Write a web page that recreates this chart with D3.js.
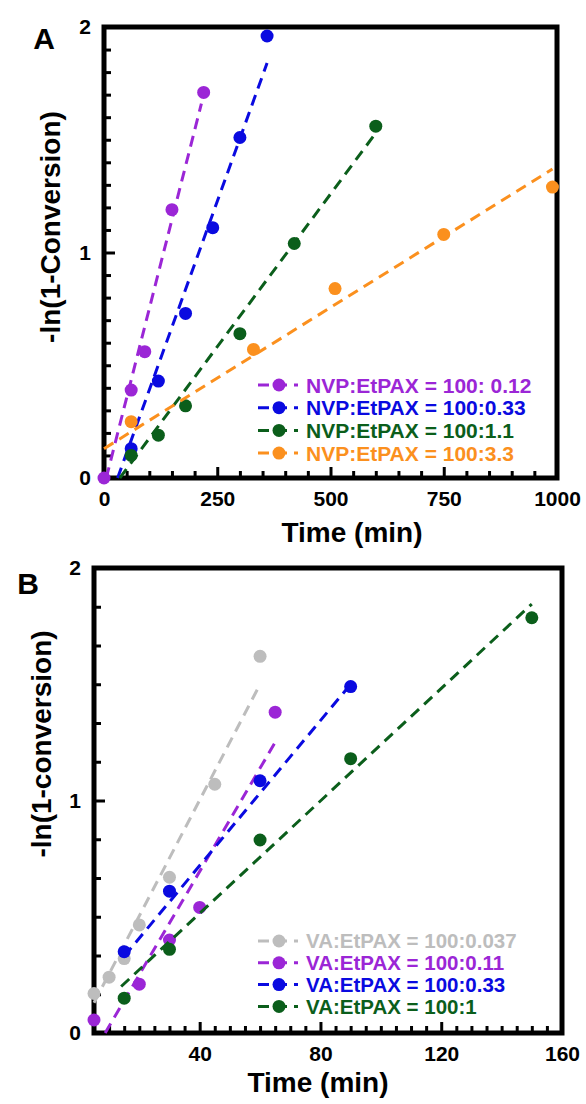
<!DOCTYPE html>
<html lang="en">
<head>
<meta charset="utf-8">
<title>-ln(1-conversion) vs time</title>
<script src="https://cdn.jsdelivr.net/npm/d3@7"></script>
<style>
  body { margin: 0; background: #fff; }
  svg text { font-family: "Liberation Sans", Arial, sans-serif; font-weight: bold; }
</style>
</head>
<body>
<script>
// ---- Panel A: NVP polymerisations ----
var labelsA = ["NVP:EtPAX = 100: 0.12", "NVP:EtPAX = 100:0.33", "NVP:EtPAX = 100:1.1", "NVP:EtPAX = 100:3.3"];
var timeA = [[0, 60, 90, 150, 220],
             [60, 120, 180, 240, 300, 360],
             [60, 120, 180, 300, 420, 600],
             [60, 330, 510, 750, 990]];
var convA = [[0, 0.39, 0.56, 1.19, 1.71],
             [0.13, 0.43, 0.73, 1.11, 1.51, 1.96],
             [0.10, 0.19, 0.32, 0.64, 1.04, 1.56],
             [0.25, 0.57, 0.84, 1.08, 1.29]];
// end points of the linear fits
var fitTimeA = [[5, 215], [30, 360], [35, 600], [0, 990]];
var fitConvA = [[0, 1.66], [0, 1.84], [0, 1.53], [0.13, 1.37]];
var xTicksA = [0, 250, 500, 750, 1000];
var yTicksA = [0, 1, 2];

// ---- Panel B: VA polymerisations ----
var labelsB = ["VA:EtPAX = 100:0.037", "VA:EtPAX = 100:0.11", "VA:EtPAX = 100:0.33", "VA:EtPAX = 100:1"];
var timeB = [[5, 10, 15, 20, 30, 45, 60],
             [5, 20, 30, 40, 65],
             [15, 30, 60, 90],
             [15, 30, 60, 90, 150]];
var convB = [[0.17, 0.24, 0.32, 0.465, 0.67, 1.07, 1.62],
             [0.056, 0.21, 0.40, 0.54, 1.38],
             [0.35, 0.61, 1.085, 1.49],
             [0.15, 0.36, 0.83, 1.18, 1.786]];
var fitTimeB = [[5, 60], [8.7, 65], [15, 90], [14, 150]];
var fitConvB = [[0.13, 1.50], [0, 1.25], [0.33, 1.50], [0.2, 1.845]];
var xTicksB = [40, 80, 120, 160];
var yTicksB = [0, 1, 2];

var colorsA = ["#9b26d6", "#0a0ae0", "#0b5e1b", "#fb901e"];
var colorsB = ["#bdbdbd", "#9b26d6", "#0a0ae0", "#0b5e1b"];

var w = 586;
var h = 1104;

var svg = d3.select("body")
            .append("svg")
            .attr("width", w)
            .attr("height", h);

function drawPanel(p) {
    var g = svg.append("g");

    var x = d3.scaleLinear().domain(p.xDomain).range([p.left, p.right]);
    var y = d3.scaleLinear().domain(p.yDomain).range([p.bottom, p.top]);

    // minor tick positions, skipping the labelled ones
    var xMinor = d3.range(p.xDomain[0], p.xDomain[1] + 1e-6, p.xMinorStep)
        .filter(function(v) { return !p.xTicks.some(function(t) { return Math.abs(t - v) < 1e-6; }); });
    var yMinor = d3.range(p.yDomain[0], p.yDomain[1] + 1e-6, p.yMinorStep)
        .filter(function(v) { return !p.yTicks.some(function(t) { return Math.abs(t - v) < 1e-6; }); });

    // inward ticks: minor ones first
    g.append("g")
        .attr("transform", "translate(0," + p.bottom + ")")
        .call(d3.axisBottom(x).tickValues(xMinor).tickSize(-7).tickFormat(""));
    g.append("g")
        .attr("transform", "translate(" + p.left + ",0)")
        .call(d3.axisLeft(y).tickValues(yMinor).tickSize(-7).tickFormat(""));

    // labelled ticks
    g.append("g")
        .attr("transform", "translate(0," + p.bottom + ")")
        .call(d3.axisBottom(x).tickValues(p.xTicks).tickSize(-11).tickPadding(13).tickFormat(d3.format("d")));
    g.append("g")
        .attr("transform", "translate(" + p.left + ",0)")
        .call(d3.axisLeft(y).tickValues(p.yTicks).tickSize(-11).tickPadding(13).tickFormat(d3.format("d")));

    g.selectAll(".domain").remove();
    g.selectAll(".tick line").attr("stroke", "#000").attr("stroke-width", 3);
    g.selectAll(".tick text")
        .attr("fill", "#000")
        .attr("font-size", "21px")
        .attr("font-family", null);

    // frame
    g.append("rect")
        .attr("x", p.left)
        .attr("y", p.top)
        .attr("width", p.right - p.left)
        .attr("height", p.bottom - p.top)
        .attr("fill", "none")
        .attr("stroke", "#000")
        .attr("stroke-width", 5);

    // fitted lines and data points
    p.times.forEach(function(ts, i) {
        var col = p.colors[i];
        g.append("line")
            .attr("x1", x(p.fitTime[i][0]))
            .attr("y1", y(p.fitConv[i][0]))
            .attr("x2", x(p.fitTime[i][1]))
            .attr("y2", y(p.fitConv[i][1]))
            .attr("stroke", col)
            .attr("stroke-width", 3)
            .attr("stroke-dasharray", "11,7");

        g.selectAll(null)
            .data(ts)
            .enter()
            .append("circle")
            .attr("cx", function(d) { return x(d); })
            .attr("cy", function(d, j) { return y(p.convs[i][j]); })
            .attr("r", 6.5)
            .attr("fill", col);
    });

    // legend
    var leg = g.append("g");
    p.labels.forEach(function(lab, i) {
        var ly = p.legendY + i * p.legendStep;
        leg.append("line")
            .attr("x1", 258).attr("x2", 298)
            .attr("y1", ly).attr("y2", ly)
            .attr("stroke", p.colors[i])
            .attr("stroke-width", 3)
            .attr("stroke-dasharray", "11,7");
        leg.append("circle")
            .attr("cx", 279).attr("cy", ly)
            .attr("r", 6.5)
            .attr("fill", p.colors[i]);
        leg.append("text")
            .attr("x", 306).attr("y", ly)
            .attr("dy", "0.36em")
            .attr("font-size", p.legendFont)
            .attr("fill", p.colors[i])
            .text(lab);
    });

    // titles
    g.append("text")
        .attr("x", p.letterX).attr("y", p.letterY)
        .attr("font-size", "30px")
        .attr("text-anchor", "middle")
        .text(p.letter);

    g.append("text")
        .attr("x", p.xTitleX).attr("y", p.xTitleY)
        .attr("font-size", "28px")
        .attr("text-anchor", "middle")
        .text("Time (min)");

    g.append("text")
        .attr("transform", "translate(" + p.yTitleX + "," + p.yTitleY + ") rotate(-90)")
        .attr("dy", "0.35em")
        .attr("font-size", "28px")
        .attr("text-anchor", "middle")
        .text(p.yTitle);
}

drawPanel({
    left: 104, right: 557, top: 27, bottom: 478,
    xDomain: [0, 1000], yDomain: [0, 2],
    xTicks: xTicksA, yTicks: yTicksA,
    xMinorStep: 50, yMinorStep: 0.1,
    times: timeA, convs: convA, fitTime: fitTimeA, fitConv: fitConvA,
    colors: colorsA, labels: labelsA,
    legendY: 385, legendStep: 22.7, legendFont: "21px",
    letter: "A", letterX: 44, letterY: 49,
    xTitleX: 352, xTitleY: 542,
    yTitle: "-ln(1-Conversion)", yTitleX: 50, yTitleY: 227
});

drawPanel({
    left: 94, right: 562, top: 568, bottom: 1033,
    xDomain: [5, 160], yDomain: [0, 2],
    xTicks: xTicksB, yTicks: yTicksB,
    xMinorStep: 5, yMinorStep: 1 / 6,
    times: timeB, convs: convB, fitTime: fitTimeB, fitConv: fitConvB,
    colors: colorsB, labels: labelsB,
    legendY: 941, legendStep: 21.8, legendFont: "20.5px",
    letter: "B", letterX: 28, letterY: 594,
    xTitleX: 318, xTitleY: 1092,
    yTitle: "-ln(1-conversion)", yTitleX: 41, yTitleY: 744
});
</script>
</body>
</html>
